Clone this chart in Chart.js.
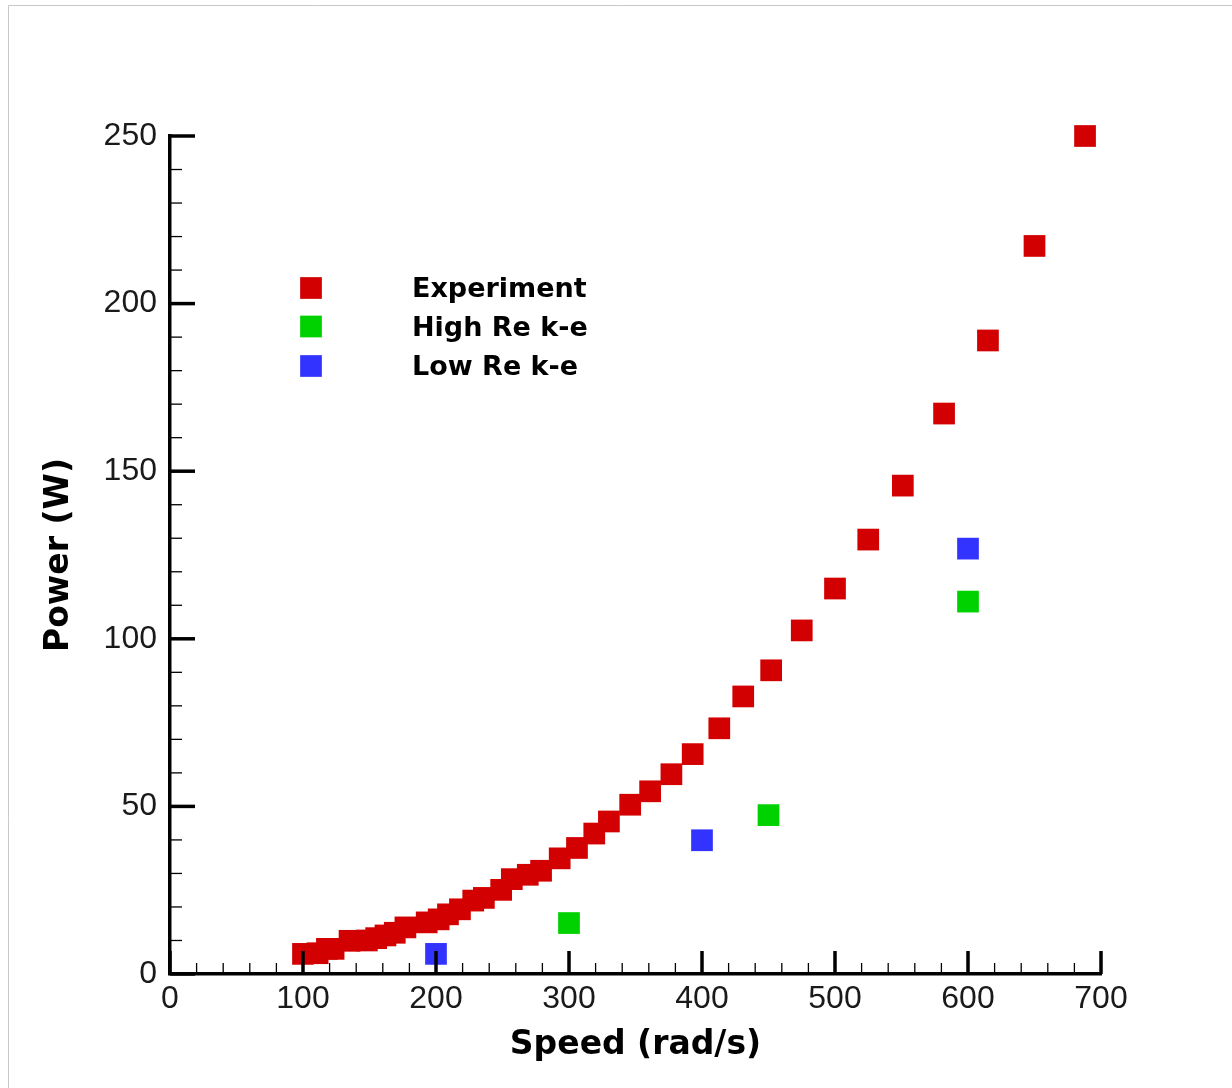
<!DOCTYPE html>
<html>
<head>
<meta charset="utf-8">
<script src="https://cdn.jsdelivr.net/npm/chart.js@4"></script>
<style>
  html, body { margin: 0; padding: 0; background: #ffffff; }
  #wrap { position: relative; width: 1232px; height: 1088px; }
  canvas { display: block; }
</style>
</head>
<body>
<div id="wrap"><canvas id="c" width="1232" height="1088"></canvas></div>
<script>
// ---- data ----
const expSpeed = [100, 111, 118, 123, 135, 148, 155, 162, 169, 177, 193, 202, 209, 218, 228, 236, 249, 257, 269, 279, 293, 306, 319, 330, 346, 361, 377, 393, 413, 431, 452, 475, 500, 525, 551, 582, 615, 650, 688];
const expPower = [6.0, 6.2, 7.5, 7.5, 9.9, 10.0, 10.7, 11.5, 12.3, 13.9, 15.4, 16.3, 17.8, 19.3, 21.9, 22.7, 25.1, 28.3, 29.6, 30.8, 34.5, 37.6, 41.9, 45.5, 50.5, 54.5, 59.6, 65.6, 73.3, 82.8, 90.6, 102.5, 115.0, 129.6, 145.7, 167.2, 189.0, 217.2, 250.0];
const highReSpeed = [300, 450, 600];
const highRePower = [15.2, 47.4, 111.1];
const lowReSpeed = [200, 400, 600];
const lowRePower = [6.0, 39.9, 126.9];
const seriesNames = ['Experiment', 'High Re k-e', 'Low Re k-e'];
const seriesColors = ['#d20000', '#00d200', '#3333ff'];
const xTitle = 'Speed (rad/s)';
const yTitle = 'Power (W)';
const xMin = 0, xMax = 700, xMajor = 100, xMinor = 20;
const yMin = 0, yMax = 250, yMajor = 50, yMinor = 10;

function pts(xs, ys) { return xs.map((x, i) => ({ x: x, y: ys[i] })); }

const TICK_FONT = { family: "'Liberation Sans', Arial, sans-serif", size: 32, weight: 'normal' };
const TITLE_FONT = { family: "'DejaVu Sans', sans-serif", size: 33, weight: 'bold' };

const frame = {
  id: 'frame',
  beforeDraw(chart) {
    const ctx = chart.ctx;
    ctx.save();
    ctx.fillStyle = '#ffffff';
    ctx.fillRect(0, 0, chart.width, chart.height);
    ctx.strokeStyle = '#c8c8c8';
    ctx.lineWidth = 1;
    ctx.beginPath();
    ctx.moveTo(8.5, chart.height);
    ctx.lineTo(8.5, 5.5);
    ctx.lineTo(chart.width, 5.5);
    ctx.stroke();
    ctx.restore();
  }
};

const inwardTicks = {
  id: 'inwardTicks',
  afterDraw(chart) {
    const ctx = chart.ctx;
    const xs = chart.scales.x, ys = chart.scales.y;
    const area = chart.chartArea;
    ctx.save();
    ctx.strokeStyle = '#000000';
    ctx.lineCap = 'butt';
    for (let v = xMin; v <= xMax + 1e-9; v += xMinor) {
      const px = xs.getPixelForValue(v);
      const major = Math.abs(v % xMajor) < 1e-9;
      ctx.lineWidth = major ? 3.5 : 1.3;
      ctx.beginPath();
      ctx.moveTo(px, area.bottom);
      ctx.lineTo(px, area.bottom - (major ? 23 : 11));
      ctx.stroke();
    }
    for (let v = yMin; v <= yMax + 1e-9; v += yMinor) {
      const py = ys.getPixelForValue(v);
      const major = Math.abs(v % yMajor) < 1e-9;
      ctx.lineWidth = major ? 3.5 : 1.3;
      ctx.beginPath();
      ctx.moveTo(area.left, py);
      ctx.lineTo(area.left + (major ? 25 : 12), py);
      ctx.stroke();
    }
    ctx.restore();
  }
};

const customLegend = {
  id: 'customLegend',
  afterDraw(chart) {
    const ctx = chart.ctx;
    const side = 21.7;
    const boxX = 311;
    const rows = [288, 326.5, 366];
    const baselines = [296.7, 336, 375];
    ctx.save();
    ctx.font = "bold 27px 'DejaVu Sans', sans-serif";
    ctx.textBaseline = 'alphabetic';
    ctx.textAlign = 'left';
    seriesNames.forEach((name, i) => {
      ctx.fillStyle = seriesColors[i];
      ctx.fillRect(boxX - side / 2, rows[i] - side / 2, side, side);
      ctx.fillStyle = '#000000';
      ctx.fillText(name, 412, baselines[i]);
    });
    ctx.restore();
  }
};

const ds = (label, data, color) => ({
  label: label,
  data: data,
  pointStyle: 'rect',
  pointRadius: 15.35,
  pointHoverRadius: 15.35,
  backgroundColor: color,
  borderColor: color,
  borderWidth: 0,
  showLine: false,
  clip: false
});

new Chart(document.getElementById('c'), {
  type: 'scatter',
  data: {
    datasets: [
      ds(seriesNames[0], pts(expSpeed, expPower), seriesColors[0]),
      ds(seriesNames[1], pts(highReSpeed, highRePower), seriesColors[1]),
      ds(seriesNames[2], pts(lowReSpeed, lowRePower), seriesColors[2])
    ]
  },
  options: {
    responsive: false,
    animation: false,
    devicePixelRatio: 1,
    layout: { padding: { top: 136, right: 131, bottom: 0, left: 0 } },
    plugins: { legend: { display: false }, tooltip: { enabled: false } },
    scales: {
      x: {
        type: 'linear',
        min: xMin, max: xMax,
        afterFit(scale) { scale.height = 114; },
        ticks: { stepSize: xMajor, color: '#1a1a1a', font: TICK_FONT, padding: 6, maxRotation: 0 },
        grid: { display: true, drawOnChartArea: false, drawTicks: false },
        border: { display: true, color: '#000000', width: 3.5 },
        title: { display: true, text: xTitle, color: '#000000', font: TITLE_FONT, padding: { top: 0, bottom: 23 } }
      },
      y: {
        type: 'linear',
        min: yMin, max: yMax,
        afterFit(scale) { scale.width = 170; },
        ticks: { stepSize: yMajor, color: '#1a1a1a', font: TICK_FONT, padding: 13 },
        grid: { display: true, drawOnChartArea: false, drawTicks: false },
        border: { display: true, color: '#000000', width: 3.5 },
        title: { display: true, text: yTitle, color: '#000000', font: TITLE_FONT, padding: { top: 40, bottom: 0 } }
      }
    }
  },
  plugins: [frame, inwardTicks, customLegend]
});
</script>
</body>
</html>
